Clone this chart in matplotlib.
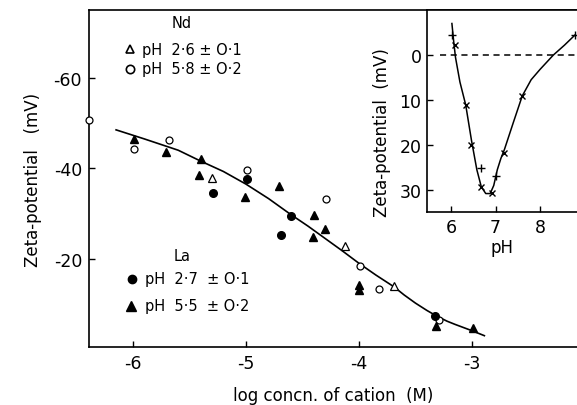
import numpy as np
import matplotlib.pyplot as plt

plt.rcParams['font.family'] = ['DejaVu Sans']
plt.rcParams['axes.unicode_minus'] = False

# main panel: log concentration of cation vs zeta-potential (mV)
nd_open_circle_x = [-6.39, -5.99, -5.68, -4.99, -4.29, -3.99, -3.82, -3.29]
nd_open_circle_y = [-50.6, -44.3, -46.3, -39.6, -33.2, -18.5, -13.3, -6.5]
nd_open_tri_x = [-5.30, -4.12, -3.69]
nd_open_tri_y = [-37.8, -22.9, -13.9]
la_circle_x = [-5.29, -4.99, -4.69, -4.60, -3.33]
la_circle_y = [-34.5, -37.7, -25.3, -29.4, -7.3]
la_tri_x = [-5.99, -5.71, -5.40, -5.42, -5.01, -4.71, -4.40, -4.41, -4.30, -4.00, -4.00, -3.32, -2.99]
la_tri_y = [-46.5, -43.6, -42.1, -38.6, -33.6, -36.0, -29.7, -24.8, -26.6, -14.2, -13.0, -5.1, -4.6]
curve_x = [-6.15, -5.9, -5.6, -5.41, -5.2, -5.0, -4.8, -4.61, -4.45, -4.3, -4.15, -4.0, -3.85, -3.69,
           -3.6, -3.5, -3.4, -3.31, -3.22, -3.15, -3.0, -2.89]
curve_y = [-48.5, -46.5, -44.0, -41.7, -39.3, -36.5, -33.3, -29.9, -27.2, -24.5, -21.8, -19.0, -16.4, -13.8,
           -12.0, -10.2, -8.6, -7.3, -6.2, -5.5, -4.1, -3.0]

# inset: pH vs zeta-potential (mV)
ins_x_pts = [6.09, 6.33, 6.46, 6.67, 6.93, 7.19, 7.59]
ins_x_vals = [-2.3, 11.1, 20.0, 29.3, 30.7, 21.8, 9.1]
ins_plus_pts = [6.02, 6.67, 7.00, 8.78]
ins_plus_vals = [-4.4, 25.1, 26.8, -4.4]
ins_curve_x = [6.02, 6.06, 6.1, 6.2, 6.33, 6.46, 6.58, 6.68, 6.78, 6.88, 6.96, 7.04, 7.12, 7.2, 7.4, 7.6, 7.8, 8.0, 8.3, 8.55, 8.78]
ins_curve_y = [-7.0, -3.0, 0.5, 6.0, 11.1, 19.0, 25.5, 29.3, 30.8, 30.8, 29.0, 25.5, 23.0, 21.0, 15.0, 9.1, 5.5, 3.2, 0.0, -2.2, -4.4]

fig = plt.figure(figsize=(5.77, 4.06), dpi=100)
ax = fig.add_axes([0.1542, 0.1429, 0.8458, 0.8300])

ax.plot(curve_x, curve_y, color='black', lw=1.2, zorder=2)
ms = 5.5
ax.plot(nd_open_circle_x, nd_open_circle_y, 'o', ms=ms - 0.5, mfc='white', mec='black', mew=0.9, ls='none', zorder=3, clip_on=False)
ax.plot(nd_open_tri_x, nd_open_tri_y, '^', ms=ms, mfc='white', mec='black', mew=0.9, ls='none', zorder=3)
ax.plot(la_circle_x, la_circle_y, 'o', ms=ms, color='black', ls='none', zorder=3)
ax.plot(la_tri_x, la_tri_y, '^', ms=ms + 0.5, color='black', ls='none', zorder=3)

ax.set_xlim(-6.39, -2.07)
ax.set_ylim(-0.5, -75)
ax.set_xticks([-6, -5, -4, -3])
ax.set_xticklabels(['-6', '-5', '-4', '-3'])
ax.set_yticks([-60, -40, -20])
ax.set_yticklabels(['-60', '-40', '-20'])
ax.tick_params(direction='in', length=4, width=1, labelsize=12.5, pad=5)
ax.spines['right'].set_visible(False)
for s in ['left', 'top', 'bottom']:
    ax.spines[s].set_linewidth(1.2)
ax.set_xlabel('log concn. of cation  (M)', fontsize=12, labelpad=10)
ax.set_ylabel('Zeta-potential   (mV)', fontsize=12, labelpad=8)

# key text
tk = dict(transform=ax.transAxes, fontsize=10.5, va='center')
ax.text(0.19, 0.962, 'Nd', ha='center', **tk)
ax.plot([0.084], [0.884], '^', ms=6, mfc='white', mec='black', mew=1.2, transform=ax.transAxes)
ax.text(0.108, 0.884, 'pH  2·6 ± O·1', **tk)
ax.plot([0.084], [0.825], 'o', ms=6, mfc='white', mec='black', mew=1.2, transform=ax.transAxes)
ax.text(0.108, 0.825, 'pH  5·8 ± O·2', **tk)
ax.text(0.19, 0.27, 'La', ha='center', **tk)
ax.plot([0.088], [0.202], 'o', ms=6, color='black', transform=ax.transAxes)
ax.text(0.114, 0.202, 'pH  2·7  ± O·1', **tk)
ax.plot([0.086], [0.122], '^', ms=6.5, color='black', transform=ax.transAxes)
ax.text(0.114, 0.122, 'pH  5·5  ± O·2', **tk)

# inset
axi = fig.add_axes([0.7400, 0.4754, 0.2600, 0.4975])
axi.set_facecolor('white')
axi.plot(ins_curve_x, ins_curve_y, color='black', lw=1.1)
axi.plot(ins_x_pts, ins_x_vals, 'x', ms=5, color='black', mew=1.0)
axi.plot(ins_plus_pts, ins_plus_vals, '+', ms=6, color='black', mew=1.0, clip_on=False)
axi.hlines(0, 5.75, 8.83, colors='black', linestyles=(0, (4, 3)), lw=1.1)
axi.set_xlim(5.46, 8.83)
axi.set_ylim(34.9, -10)
axi.set_xticks([6, 7, 8])
axi.set_yticks([0, 10, 20, 30])
axi.tick_params(direction='in', length=4, width=1, labelsize=12.5, pad=4)
axi.spines['right'].set_visible(False)
for s in ['left', 'top', 'bottom']:
    axi.spines[s].set_linewidth(1.2)
axi.set_xlabel('pH', fontsize=12, labelpad=2)
axi.set_ylabel('Zeta-potential  (mV)', fontsize=12, labelpad=6)
axi.yaxis.label.set_y(0.40)

fig.savefig('out.png', dpi=100)
